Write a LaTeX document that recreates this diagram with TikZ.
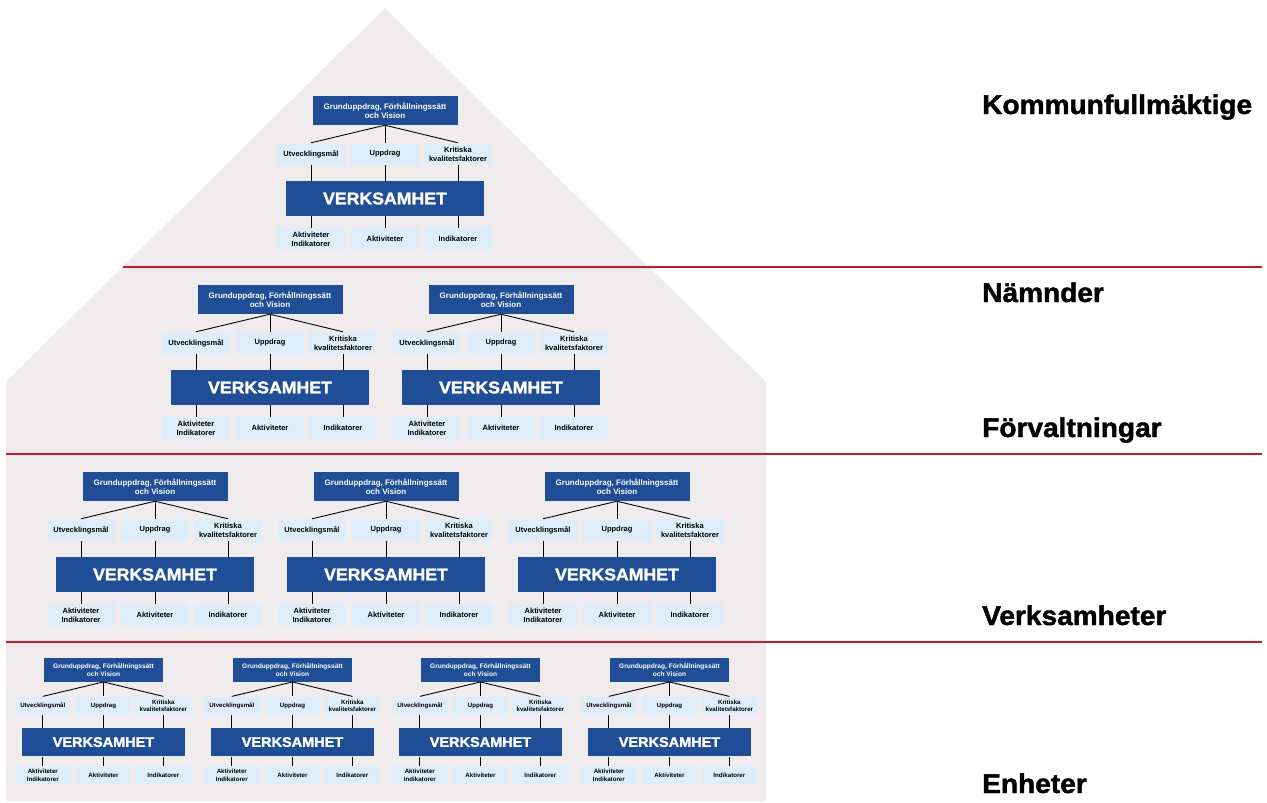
\documentclass[tikz,border=0pt]{standalone}
\usepackage{fontspec}
\setmainfont{Liberation Sans}
\newfontfamily\heavyfont{Liberation Sans}[BoldFeatures={FakeBold=1.6, FakeStretch=1.04}]
\definecolor{housegrey}{RGB}{240, 236, 237}
\definecolor{navy}{RGB}{31, 78, 151}
\definecolor{pale}{RGB}{221, 238, 250}
\definecolor{redline}{RGB}{190, 30, 45}

% one block: top box, three goals, VERKSAMHET, three outputs
\newcommand{\orgblock}[1]{%
  \node[grundbox] (#1g) at (0, 14.5) {Grunduppdrag, Förhållningssätt\\och Vision};
  \node[malbox] (#1u) at (-74, 58) {Utvecklingsmål};
  \node[malbox] (#1p) at (0, 58) {Uppdrag};
  \node[malbox] (#1k) at (73, 58) {Kritiska\\kvalitetsfaktorer};
  \node[verkbox] (#1v) at (0, 102.5) {VERKSAMHET};
  \node[malbox] (#1ai) at (-74, 143) {Aktiviteter\\Indikatorer};
  \node[malbox] (#1a) at (0, 143) {Aktiviteter};
  \node[malbox] (#1i) at (73, 143) {Indikatorer};
  \draw[tree] (#1g.south) -- (#1u.north);
  \draw[tree] (#1g.south) -- (#1p.north);
  \draw[tree] (#1g.south) -- (#1k.north);
  \draw[tree] (#1u.south) -- (#1v.north -| #1u);
  \draw[tree] (#1p.south) -- (#1v.north -| #1p);
  \draw[tree] (#1k.south) -- (#1v.north -| #1k);
  \draw[tree] (#1v.south -| #1ai) -- (#1ai.north);
  \draw[tree] (#1v.south -| #1a) -- (#1a.north);
  \draw[tree] (#1v.south -| #1i) -- (#1i.north);
}

\begin{document}
\begin{tikzpicture}[x=1pt, y=-1pt,
  grundbox/.style={fill=navy, text=white, font=\bfseries\fontsize{8}{9}\selectfont,
    align=center, minimum width=145pt, minimum height=29pt, inner sep=1pt},
  malbox/.style={fill=pale, text=black, font=\bfseries\fontsize{7.5}{9}\selectfont,
    align=center, minimum width=68pt, minimum height=22pt, inner sep=1pt},
  verkbox/.style={fill=navy, text=white, font=\heavyfont\bfseries\fontsize{17}{20}\selectfont,
    minimum width=198pt, minimum height=35pt, inner sep=1pt},
  tree/.style={draw=black, line width=0.9pt},
  tierlabel/.style={font=\heavyfont\bfseries\fontsize{27}{32}\selectfont, anchor=base west, inner sep=0pt}]
  \useasboundingbox (0, 0) rectangle (1267, 803);

  % house
  \fill[housegrey] (385, 8) -- (766, 382) -- (766, 801) -- (6, 801) -- (6, 382) -- cycle;

  % levels
  \draw[redline, line width=1.3pt] (123, 267) -- (1262, 267);
  \draw[redline, line width=1.3pt] (6, 454) -- (1262, 454);
  \draw[redline, line width=1.3pt] (6, 642) -- (1262, 642);

  \node[tierlabel] (kf) at (982, 114) {Kommunfullmäktige};
  \node[tierlabel] (nd) at (982, 302) {Nämnder};
  \node[tierlabel] (fv) at (982, 437) {Förvaltningar};
  \node[tierlabel] (vh) at (982, 625) {Verksamheter};
  \node[tierlabel] (eh) at (982, 793) {Enheter};

  % Kommunfullmaktige
  \begin{scope}[shift={(385, 96)}]
    \orgblock{k}
  \end{scope}

  % Namnder
  \begin{scope}[shift={(270, 285)}]
    \orgblock{na}
  \end{scope}
  \begin{scope}[shift={(501, 285)}]
    \orgblock{nb}
  \end{scope}

  % Verksamheter
  \begin{scope}[shift={(155, 472)}]
    \orgblock{va}
  \end{scope}
  \begin{scope}[shift={(386, 472)}]
    \orgblock{vb}
  \end{scope}
  \begin{scope}[shift={(617, 472)}]
    \orgblock{vc}
  \end{scope}

  % Enheter
  \begin{scope}[shift={(103.5, 658)}, scale=0.82, transform shape]
    \orgblock{ea}
  \end{scope}
  \begin{scope}[shift={(292.5, 658)}, scale=0.82, transform shape]
    \orgblock{eb}
  \end{scope}
  \begin{scope}[shift={(480.5, 658)}, scale=0.82, transform shape]
    \orgblock{ec}
  \end{scope}
  \begin{scope}[shift={(669.5, 658)}, scale=0.82, transform shape]
    \orgblock{ed}
  \end{scope}
\end{tikzpicture}
\end{document}
